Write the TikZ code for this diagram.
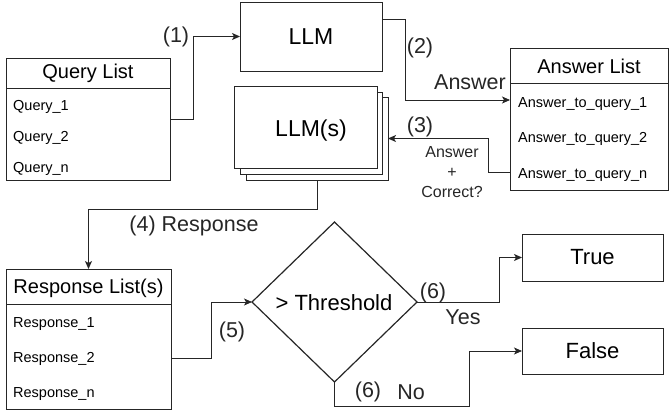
\documentclass[tikz,border=0pt]{standalone}
\usepackage{fontspec}
\setmainfont{Liberation Sans}
\usetikzlibrary{shapes.geometric,arrows.meta}
\tikzset{
  box/.style={draw=black!85, line width=1pt, fill=white, inner sep=0pt, outer sep=0pt},
  arr/.style={draw=black!85, line width=0.85pt, -{Stealth[length=8pt,width=7pt,inset=2pt]}},
  conn/.style={draw=black!85, line width=0.9pt},
  big/.style={font=\fontsize{23}{27}\selectfont, inner sep=0pt},
  head/.style={font=\fontsize{20}{24}\selectfont, inner sep=0pt},
  item/.style={font=\fontsize{14.5}{17}\selectfont, inner sep=0pt, anchor=base west},
  lab/.style={font=\fontsize{21.5}{25}\selectfont, inner sep=0pt, text=black!85},
  small/.style={font=\fontsize{16}{20}\selectfont, inner sep=0pt, align=center, text=black!85},
}
\begin{document}
\begin{tikzpicture}[x=1pt,y=-1pt]
\useasboundingbox (0,0) rectangle (669,410);

% LLM box
\node[box, big, minimum width=142pt, minimum height=69pt] (llm) at (311,36.5) {LLM};

% LLM(s) stack
\node[box, minimum width=142pt, minimum height=83pt] (llms3) at (317,138.5) {};
\node[box, minimum width=142pt, minimum height=82pt] (llms2) at (311,133) {};
\node[box, minimum width=143pt, minimum height=82pt] (llms) at (305.5,127) {};
\node[big] (llmstxt) at (311,130.5) {LLM(s)};

% Query list
\node[box, minimum width=164pt, minimum height=122pt] (ql) at (88,119) {};
\draw[conn] (6,88) -- (170,88);
\node[head] (qlh) at (88,73) {Query List};
\node[item] (q1) at (13,110) {Query\_1};
\node[item] (q2) at (13,141) {Query\_2};
\node[item] (qn) at (13,172) {Query\_n};

% Answer list
\node[box, minimum width=158pt, minimum height=142pt] (al) at (589,119) {};
\draw[conn] (510,83) -- (668,83);
\node[head] (alh) at (589,66) {Answer List};
\node[item] (a1) at (518,107) {Answer\_to\_query\_1};
\node[item] (a2) at (518,142) {Answer\_to\_query\_2};
\node[item] (an) at (518,178) {Answer\_to\_query\_n};

% Response list
\node[box, minimum width=165pt, minimum height=140pt] (rl) at (88.5,339) {};
\draw[conn] (6,304) -- (171,304);
\node[head] (rlh) at (88.5,288) {Response List(s)};
\node[item] (r1) at (13,327) {Response\_1};
\node[item] (r2) at (13,362) {Response\_2};
\node[item] (rn) at (13,397) {Response\_n};

% Threshold diamond
\node[box, diamond, aspect=1.03, minimum width=165pt, minimum height=160pt, line width=1.2pt] (th) at (334.5,302) {};
\node[big, font=\fontsize{22}{26}\selectfont] (thtxt) at (334,303) {> Threshold};

% True / False
\node[box, big, font=\fontsize{22}{26}\selectfont, minimum width=141pt, minimum height=47pt] (tr) at (592.5,257.5) {True};
\node[box, big, font=\fontsize{22}{26}\selectfont, minimum width=141pt, minimum height=46pt] (fa) at (592.5,351) {False};

% connectors
\draw[arr] (ql.east) -- ++(23,0) |- (llm.west);
\draw[arr] (llm.east |- 0,19) -- (405,19) |- (al.west |- 0,100);
\draw[arr] (al.west |- 0,172) -- (488,172) |- (llms3.east);
\draw[arr] (llms3.south) -- (317,209) -| (rl.north);
\draw[arr] (rl.east |- 0,358) -- (211,358) |- (th.west);
\draw[arr] (th.east) -- (499,302) |- (tr.west);
\draw[arr] (th.south) |- (469,406) |- (fa.west);

% labels
\node[lab] (l1) at (176,37) {(1)};
\node[lab] (l2) at (420,48) {(2)};
\node[lab] (lans) at (470,82) {Answer};
\node[lab] (l3) at (420,127) {(3)};
\node[small] (lac) at (452,172) {Answer\\+\\Correct?};
\node[lab] (l4) at (194,226) {(4) Response};
\node[lab] (l5) at (232,332) {(5)};
\node[lab] (l6y) at (433,293) {(6)};
\node[lab] (lyes) at (463,317) {Yes};
\node[lab] (l6n) at (368,392) {(6)};
\node[lab] (lno) at (411,392) {No};
\end{tikzpicture}
\end{document}
